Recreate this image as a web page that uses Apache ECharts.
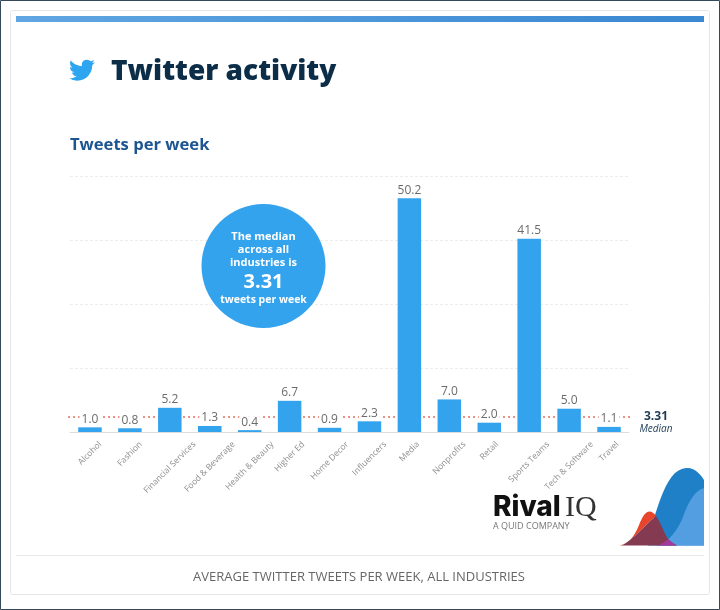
<!DOCTYPE html>
<html>
<head>
<meta charset="utf-8">
<title>Twitter activity</title>
<script src="https://cdn.jsdelivr.net/npm/echarts@6/dist/echarts.min.js"></script>
<style>
  html, body { margin: 0; padding: 0; background: #fff; }
  #chart { width: 720px; height: 610px; }
</style>
</head>
<body>
<div id="chart"></div>
<script>
const categories = ["Alcohol", "Fashion", "Financial Services", "Food & Beverage", "Health & Beauty", "Higher Ed", "Home Decor", "Influencers", "Media", "Nonprofits", "Retail", "Sports Teams", "Tech & Software", "Travel"];
const tweetsPerWeek = [1.0, 0.8, 5.2, 1.3, 0.4, 6.7, 0.9, 2.3, 50.2, 7.0, 2.0, 41.5, 5.0, 1.1];
const medianValue = 3.31;

const FONT = "'Open Sans', sans-serif";
const BLUE = "#34a3ee";
const LABEL_FONT = "400 8.5px " + FONT;

// icon + logo outlines, graphic has no plain "path" type so register them as shapes
const shapes = {
  bird: "M23.953 4.57 a10 10 0 0 1 -2.825 .775 a4.958 4.958 0 0 0 2.163 -2.723 c-.951 .555 -2.005 .959 -3.127 1.184 a4.92 4.92 0 0 0 -8.384 4.482 C7.69 8.095 4.067 6.13 1.64 3.162 a4.822 4.822 0 0 0 -.666 2.475 c0 1.71 .87 3.213 2.188 4.096 a4.904 4.904 0 0 1 -2.228 -.616 v.06 a4.923 4.923 0 0 0 3.946 4.827 a4.996 4.996 0 0 1 -2.212 .085 a4.936 4.936 0 0 0 4.604 3.417 a9.867 9.867 0 0 1 -6.102 2.105 c-.39 0 -.779 -.023 -1.17 -.067 a13.995 13.995 0 0 0 7.557 2.209 c9.053 0 13.998 -7.496 13.998 -13.985 c0 -.21 0 -.42 -.015 -.63 A9.935 9.935 0 0 0 24 4.59 z",
  hillBlue: "M648 545.5 L655 515 C 660 500 665 483 675 473 C 680 469 684 468 688 468 C 694 468 700 473 704 480 L704 545.5 Z",
  hillLight: "M657 545.5 C 668 543 678 530 683 517 C 688 503 694 491 704 488 L704 545.5 Z",
  hillRed: "M620 545.5 C 630 543 635 535 639 525 C 643 515 646 511.5 649.5 511.5 C 652 511.5 654 513 656 516 C 645 525 635 538 622 545.5 Z",
  hillMaroon: "M622 545.5 C 635 538 645 525 656 516 C 661 523 664 533 668 539 C 671 542 674 544 677 545.5 Z",
  hillPurple: "M657 545.5 C 662 544 666 541 668 539 C 671 542 674 544 677 545.5 Z"
};
Object.keys(shapes).forEach(name => {
  echarts.graphic.registerShape(name, echarts.graphic.extendPath(shapes[name], {}));
});

function txt(x, y, text, font, fill, align) {
  return {
    type: "text", z: 20,
    style: { x: x, y: y, text: text, font: font, fill: fill, align: align || "left", verticalAlign: "middle" }
  };
}

// labels are centred under the tick but top aligned, axisLabel cant do that so measure them
const measure = document.createElement("canvas").getContext("2d");
measure.font = LABEL_FONT;

function renderCategoryLabel(params, api) {
  const name = categories[api.value(0)];
  const p = api.coord([api.value(0), 0]);
  const half = measure.measureText(name).width / 2 * Math.SQRT1_2;
  return {
    type: "text",
    x: p[0],
    y: p[1] + 11 + half,
    rotation: Math.PI / 4,
    style: { text: name, font: LABEL_FONT, fill: "#8f8f8f", align: "center", verticalAlign: "middle" }
  };
}

const chart = echarts.init(document.getElementById("chart"), null, { renderer: "canvas" });

const option = {
  animation: false,
  backgroundColor: "#ffffff",
  textStyle: { fontFamily: FONT },
  grid: { left: 70, right: 91, top: 176, height: 256, containLabel: false },
  xAxis: {
    type: "category",
    data: categories,
    axisTick: { show: false },
    axisLine: { lineStyle: { color: "#dddddd", width: 1 } },
    axisLabel: { show: false }
  },
  yAxis: {
    type: "value",
    min: 0,
    max: 55,
    interval: 13.75,
    axisLabel: { show: false },
    axisLine: { show: false },
    axisTick: { show: false },
    splitLine: { lineStyle: { color: "#ececec", type: [3, 2], width: 1 } }
  },
  series: [{
    type: "bar",
    data: tweetsPerWeek,
    barWidth: 23.5,
    itemStyle: { color: BLUE },
    label: {
      show: true, position: "top", distance: 3,
      formatter: p => p.value.toFixed(1),
      fontSize: 12, color: "#6b6b6b", fontFamily: FONT,
      backgroundColor: "#ffffff", padding: [0, 2, -1, 2]
    },
    markLine: {
      silent: true, symbol: "none", z: 1,
      label: { show: false },
      lineStyle: { color: "#e0705f", type: [2, 3], width: 1.5 },
      data: [[{ x: 68, yAxis: medianValue }, { x: 632, yAxis: medianValue }]]
    }
  }, {
    type: "custom",
    silent: true,
    clip: false,
    renderItem: renderCategoryLabel,
    encode: { x: 0, y: 1 },
    data: categories.map((c, i) => [i, 0])
  }],
  graphic: [
    // frame
    { type: "rect", z: 0, shape: { x: 0.5, y: 0.5, width: 719, height: 609 }, style: { fill: "transparent", stroke: "#36495a", lineWidth: 1 }, silent: true },
    { type: "rect", z: 0, shape: { x: 10.5, y: 10.5, width: 699, height: 584, r: 2 }, style: { fill: "transparent", stroke: "#e6e6e6", lineWidth: 1 }, silent: true },
    { type: "rect", z: 1, shape: { x: 16, y: 16, width: 688, height: 6 },
      style: { fill: new echarts.graphic.LinearGradient(0, 0, 1, 0, [{ offset: 0, color: "#60a6e2" }, { offset: 1, color: "#3a88d2" }]) } },
    { type: "rect", z: 1, shape: { x: 16, y: 555, width: 688, height: 1 }, style: { fill: "#e8e8e8" } },

    // header
    { type: "bird", z: 20, x: 69, y: 57.2, scaleX: 1.08, scaleY: 1.08, style: { fill: "#2ea5f0" } },
    txt(111, 72, "Twitter activity", "800 28px " + FONT, "#0b2d48"),
    txt(70, 145, "Tweets per week", "700 16.6px " + FONT, "#1c5590"),

    // median callout
    { type: "circle", z: 15, shape: { cx: 263.5, cy: 266, r: 62 }, style: { fill: BLUE } },
    txt(263.5, 237, "The median", "700 11px " + FONT, "#ffffff", "center"),
    txt(263.5, 250, "across all", "700 11px " + FONT, "#ffffff", "center"),
    txt(263.5, 263, "industries is", "700 11px " + FONT, "#ffffff", "center"),
    txt(263.5, 282, medianValue.toFixed(2), "700 20px " + FONT, "#ffffff", "center"),
    txt(263.5, 300, "tweets per week", "700 10.5px " + FONT, "#ffffff", "center"),

    // median tag at line end
    txt(656, 417, medianValue.toFixed(2), "700 12px " + FONT, "#1d3a55", "center"),
    txt(656, 429, "Median", "italic 400 10px " + FONT, "#1d3a55", "center"),

    // logo wordmark
    txt(493, 508, "Rival", "800 28px Inter, " + FONT, "#111111"),
    txt(565, 508, "IQ", "400 30px 'Liberation Serif', serif", "#333333"),
    txt(493, 526, "A QUID COMPANY", "400 9px " + FONT, "#777777"),

    // logo hills
    { type: "hillBlue", z: 5, style: { fill: "#1f80c8" } },
    { type: "hillLight", z: 6, style: { fill: "#539ee0" } },
    { type: "hillRed", z: 7, style: { fill: "#e8452d" } },
    { type: "hillMaroon", z: 7, style: { fill: "#843a50" } },
    { type: "hillPurple", z: 8, style: { fill: "#a23a9e" } },

    // footer
    txt(359, 577, "AVERAGE TWITTER TWEETS PER WEEK, ALL INDUSTRIES", "400 13px " + FONT, "#666666", "center")
  ]
};

chart.setOption(option);
</script>
</body>
</html>
